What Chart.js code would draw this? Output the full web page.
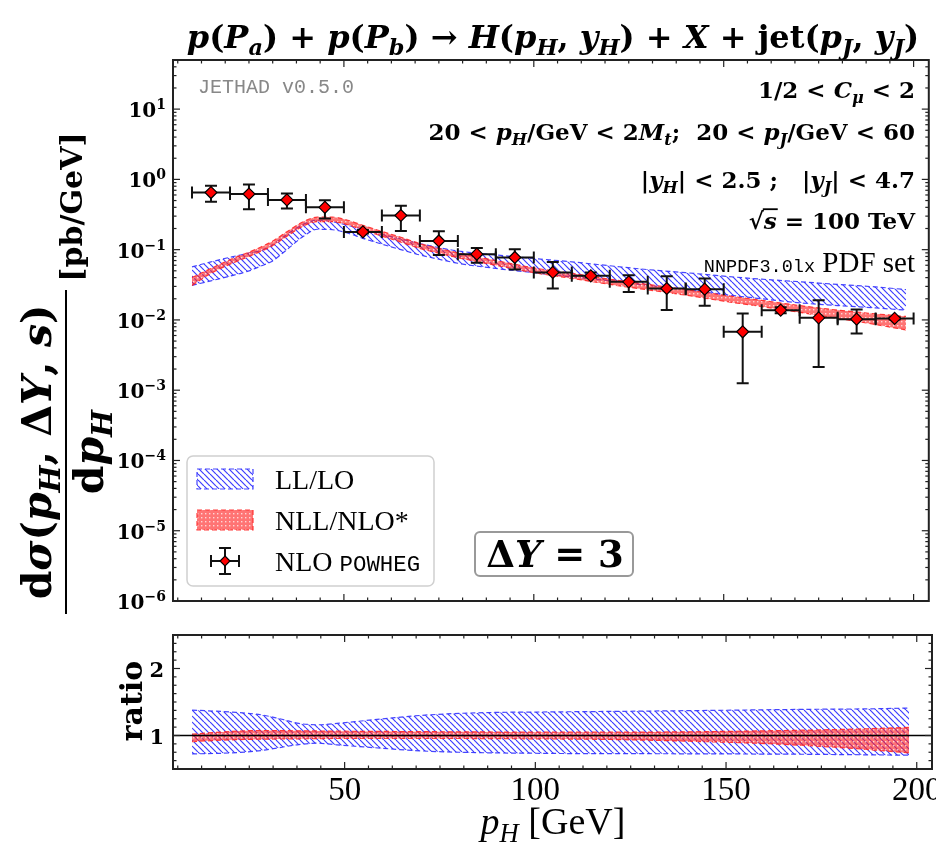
<!DOCTYPE html>
<html>
<head>
<meta charset="utf-8">
<script src="https://cdn.jsdelivr.net/npm/chart.js@4.4.1/dist/chart.umd.min.js"></script>
<style>
  body { margin: 0; background: #fff; }
  #wrap { position: relative; width: 936px; height: 847px; overflow: hidden; }
  canvas { position: absolute; left: 0; }
</style>
</head>
<body>
<div id="wrap">
  <canvas id="main" width="936" height="620" style="top:0"></canvas>
  <canvas id="ratio" width="936" height="227" style="top:620px"></canvas>
</div>
<script>
// ---- data ----
const bandX = [10,15,20,25,28,31,35,39,43,47,51,55,60,65,70,75,80,90,100,110,120,130,140,150,160,170,180,190,198];
const llUp  = [0.057,0.067,0.078,0.089,0.097,0.115,0.165,0.225,0.262,0.25,0.222,0.195,0.165,0.142,0.122,0.107,0.096,0.084,0.075,0.067,0.059,0.052,0.047,0.042,0.038,0.035,0.032,0.0295,0.027];
const llLo  = [0.031,0.036,0.042,0.050,0.058,0.068,0.10,0.15,0.195,0.192,0.172,0.145,0.12,0.10,0.084,0.073,0.064,0.054,0.047,0.041,0.036,0.031,0.027,0.023,0.020,0.0175,0.016,0.0148,0.0138];
const nllUp = [0.040,0.054,0.072,0.092,0.108,0.13,0.18,0.245,0.29,0.29,0.262,0.222,0.182,0.150,0.122,0.104,0.090,0.070,0.055,0.046,0.038,0.032,0.027,0.0225,0.019,0.016,0.0138,0.0122,0.0112];
const nllLo = [0.031,0.046,0.062,0.080,0.094,0.112,0.155,0.212,0.25,0.25,0.226,0.19,0.156,0.128,0.104,0.089,0.077,0.060,0.047,0.039,0.032,0.0268,0.0225,0.0185,0.0155,0.0128,0.0105,0.0086,0.0072];

const powX    = [15,25,35,45,55,65,75,85,95,105,115,125,135,145,155,165,175,185,195];
const powXErr = [5,5,5,5,5,5,5,5,5,5,5,5,5,5,5,5,5,5,5];
const powY    = [0.65,0.62,0.51,0.40,0.179,0.306,0.133,0.0863,0.0774,0.0474,0.0424,0.0348,0.028,0.0274,0.00678,0.01377,0.0107,0.01026,0.0105];
const powHi   = [0.81,0.845,0.63,0.506,0.19,0.42,0.183,0.106,0.1016,0.067,0.0474,0.0434,0.042,0.0389,0.01237,0.0152,0.0191,0.0141,0.0109];
const powLo   = [0.48,0.377,0.385,0.278,0.17,0.185,0.0836,0.0649,0.0523,0.028,0.0402,0.025,0.0138,0.0159,0.00126,0.0124,0.00213,0.00643,0.0101];

const ratioX    = [10,20,28,33,38,43,48,55,62,70,80,90,100,110,130,150,170,190,198];
const llRatUp   = [1.38,1.35,1.31,1.25,1.18,1.16,1.18,1.22,1.26,1.30,1.33,1.345,1.35,1.355,1.365,1.377,1.39,1.40,1.41];
const llRatLo   = [0.725,0.74,0.775,0.82,0.865,0.885,0.86,0.83,0.80,0.77,0.75,0.74,0.735,0.73,0.728,0.725,0.72,0.71,0.706];
const nllRatX   = [10,20,28,38,48,62,80,100,120,140,160,180,198];
const nllRatUp  = [1.02,1.06,1.075,1.07,1.065,1.06,1.055,1.05,1.05,1.055,1.07,1.09,1.12];
const nllRatLo  = [0.91,0.935,0.945,0.95,0.955,0.955,0.955,0.95,0.94,0.915,0.88,0.82,0.74];

const xMajorTicks = [50,100,150,200];
const xTickLabels = ['50','100','150','200'];
const yMainExp = [-6,-5,-4,-3,-2,-1,0,1];
const yRatioTicks = [1,2];

// ---- helpers ----
const SERIF = '"Liberation Serif", "DejaVu Serif", serif';
const BSERIF = '"DejaVu Serif", "Liberation Serif", serif';
const MONO = '"Liberation Mono", "DejaVu Sans Mono", monospace';
function fontFor(k, s) {
  if (k === 'b') return 'bold ' + s + 'px ' + BSERIF;
  if (k === 'bi') return 'italic bold ' + s + 'px ' + BSERIF;
  if (k === 'i') return 'italic ' + s + 'px ' + SERIF;
  if (k === 'm') return s + 'px ' + MONO;
  return s + 'px ' + SERIF;
}
// segs: [text, kind, 'sub'|'sup'|'', size factor]
function drawRich(ctx, segs, x, y, size, align, color) {
  const out = [];
  let w = 0;
  segs.forEach(([t, k, pos, f]) => {
    const s = (pos ? size * 0.7 : size) * (f || 1);
    ctx.font = fontFor(k, s);
    const tw = ctx.measureText(t).width;
    out.push({ t, f: ctx.font, x: w, w: tw, dy: pos === 'sub' ? size * 0.22 : pos === 'sup' ? -size * 0.4 : 0 });
    w += tw;
  });
  const x0 = align === 'right' ? x - w : align === 'center' ? x - w / 2 : x;
  ctx.fillStyle = color || '#000';
  ctx.textAlign = 'left';
  ctx.textBaseline = 'alphabetic';
  out.forEach(o => { ctx.font = o.f; ctx.fillText(o.t, x0 + o.x, y + o.dy); });
  return { x0, w, out };
}
function hatchPattern() {
  const c = document.createElement('canvas');
  const s = 6;
  c.width = s; c.height = s;
  const g = c.getContext('2d');
  g.strokeStyle = 'rgba(40,40,255,0.9)';
  g.lineWidth = 1.2;
  [-s, 0, s].forEach(o => { g.beginPath(); g.moveTo(o, 0); g.lineTo(o + s, s); g.stroke(); });
  return g.createPattern(c, 'repeat');
}
function dotPattern() {
  const c = document.createElement('canvas');
  c.width = 4; c.height = 4;
  const g = c.getContext('2d');
  g.fillStyle = 'rgba(255,30,30,0.62)';
  g.fillRect(0, 0, 4, 4);
  g.fillStyle = 'rgba(255,255,255,0.7)';
  g.fillRect(1, 1, 1.4, 1.4);
  return g.createPattern(c, 'repeat');
}
const blueFill = hatchPattern();
const redFill = dotPattern();
const blueEdge = 'rgba(50,50,255,0.9)';
const redEdge = 'rgba(255,40,40,0.9)';
const pts = (xs, ys) => xs.map((x, i) => ({ x, y: ys[i] }));

function band(xs, up, lo, fill, edge, order) {
  const common = { pointRadius: 0, borderWidth: 1.2, borderDash: [5, 3], borderColor: edge,
    cubicInterpolationMode: 'monotone', order };
  return [
    Object.assign({ data: pts(xs, up), fill: '+1', backgroundColor: fill }, common),
    Object.assign({ data: pts(xs, lo), fill: false }, common)
  ];
}

const xMinorTicks = [];
for (let v = 6.25; v < 204; v += 6.25) if (v % 50 !== 0) xMinorTicks.push(v);

const frameTicks = {
  id: 'frameTicks',
  afterDatasetsDraw(chart, args, o) {
    const { ctx, chartArea: a, scales: { x, y } } = chart;
    ctx.save();
    ctx.strokeStyle = '#222';
    ctx.lineWidth = 1.2;
    const tk = (px, py, dx, dy) => { ctx.beginPath(); ctx.moveTo(px, py); ctx.lineTo(px + dx, py + dy); ctx.stroke(); };
    if (o.unity) {
      ctx.lineWidth = 1.6; ctx.strokeStyle = '#000';
      const p = y.getPixelForValue(1);
      tk(a.left, p, a.right - a.left, 0);
      ctx.lineWidth = 1.2; ctx.strokeStyle = '#222';
    }
    xMajorTicks.forEach(v => { const p = x.getPixelForValue(v); tk(p, a.bottom, 0, -7); tk(p, a.top, 0, 7); });
    xMinorTicks.forEach(v => { const p = x.getPixelForValue(v); tk(p, a.bottom, 0, -3.5); tk(p, a.top, 0, 3.5); });
    o.yMajor.forEach(v => { const p = y.getPixelForValue(v); tk(a.left, p, 7, 0); tk(a.right, p, -7, 0); });
    o.yMinor.forEach(v => { const p = y.getPixelForValue(v); tk(a.left, p, 3.5, 0); tk(a.right, p, -3.5, 0); });
    ctx.lineWidth = 2;
    ctx.strokeRect(a.left, a.top, a.right - a.left, a.bottom - a.top);
    ctx.restore();
  }
};

const errorBars = {
  id: 'errorBars',
  beforeDatasetDraw(chart, args) {
    const ds = chart.data.datasets[args.index];
    if (!ds.errHi) return;
    const { ctx, chartArea: a, scales: { x, y } } = chart;
    ctx.save();
    ctx.beginPath(); ctx.rect(a.left, a.top, a.right - a.left, a.bottom - a.top); ctx.clip();
    ctx.strokeStyle = '#111';
    ctx.lineWidth = 2;
    const cap = 6;
    ds.data.forEach((p, i) => {
      const px = x.getPixelForValue(p.x), py = y.getPixelForValue(p.y);
      const xl = x.getPixelForValue(p.x - powXErr[i]), xr = x.getPixelForValue(p.x + powXErr[i]);
      const yt = y.getPixelForValue(ds.errHi[i]), yb = y.getPixelForValue(ds.errLo[i]);
      ctx.beginPath();
      ctx.moveTo(xl, py); ctx.lineTo(xr, py);
      ctx.moveTo(xl, py - cap); ctx.lineTo(xl, py + cap);
      ctx.moveTo(xr, py - cap); ctx.lineTo(xr, py + cap);
      ctx.moveTo(px, yt); ctx.lineTo(px, yb);
      ctx.moveTo(px - cap, yt); ctx.lineTo(px + cap, yt);
      ctx.moveTo(px - cap, yb); ctx.lineTo(px + cap, yb);
      ctx.stroke();
    });
    ctx.restore();
  }
};

function diamond(ctx, cx, cy, r) {
  ctx.beginPath();
  ctx.moveTo(cx, cy - r); ctx.lineTo(cx + r, cy); ctx.lineTo(cx, cy + r); ctx.lineTo(cx - r, cy); ctx.closePath();
  ctx.fillStyle = '#ff0000'; ctx.fill();
  ctx.strokeStyle = '#000'; ctx.lineWidth = 1.2; ctx.stroke();
}
function roundRect(ctx, x, y, w, h, r) {
  ctx.beginPath();
  ctx.moveTo(x + r, y); ctx.arcTo(x + w, y, x + w, y + h, r); ctx.arcTo(x + w, y + h, x, y + h, r);
  ctx.arcTo(x, y + h, x, y, r); ctx.arcTo(x, y, x + w, y, r); ctx.closePath();
}

const mainDecor = {
  id: 'mainDecor',
  afterDraw(chart) {
    const { ctx, scales: { y } } = chart;
    ctx.save();
    // title
    drawRich(ctx, [['p','bi'],['(','b'],['P','bi'],['a','bi','sub'],[')','b'],[' + ','b'],['p','bi'],['(','b'],['P','bi'],['b','bi','sub'],[')','b'],
      [' → ','b'],['H','bi'],['(','b'],['p','bi'],['H','bi','sub'],[', ','b'],['y','bi'],['H','bi','sub'],[')','b'],[' + ','b'],['X','bi'],[' + ','b'],
      ['jet','b'],['(','b'],['p','bi'],['J','bi','sub'],[', ','b'],['y','bi'],['J','bi','sub'],[')','b']], 553, 48, 32, 'center');
    // y tick labels
    yMainExp.forEach(e => {
      const p = y.getPixelForValue(Math.pow(10, e));
      const ex = e < 0 ? '\u2212' + (-e) : String(e);
      drawRich(ctx, [['10','b'],[ex,'b','sup']], 166, p + 8, 20, 'right');
    });
    // y axis label (rotated fraction)
    ctx.save();
    ctx.translate(66, 452);
    ctx.rotate(-Math.PI / 2);
    drawRich(ctx, [['d','b'],['σ','bi'],['(','b'],['p','bi'],['H','bi','sub'],[', ','b'],['Δ','b'],['Y','bi'],[', ','b'],['s','bi'],[')','b']], 0, -15, 41, 'center');
    ctx.fillStyle = '#000';
    ctx.fillRect(-162, -1, 324, 2);
    drawRich(ctx, [['d','b'],['p','bi'],['H','bi','sub']], 0, 37, 41, 'center');
    drawRich(ctx, [['[pb/GeV]','b']], 245, 16, 30, 'center');
    ctx.restore();
    // annotations
    drawRich(ctx, [['JETHAD v0.5.0','m']], 198, 93, 20, 'left', '#888');
    const fs = 23;
    drawRich(ctx, [['1/2 < ','b'],['C','bi'],['μ','bi','sub'],[' < 2','b']], 915, 98, fs, 'right');
    drawRich(ctx, [['20 < ','b'],['p','bi'],['H','bi','sub'],['/GeV < 2','b'],['M','bi'],['t','bi','sub'],[';  20 < ','b'],['p','bi'],['J','bi','sub'],['/GeV < 60','b']], 915, 140, fs, 'right');
    drawRich(ctx, [['|','b'],['y','bi'],['H','bi','sub'],['| < 2.5 ;   |','b'],['y','bi'],['J','bi','sub'],['| < 4.7','b']], 915, 188, fs, 'right');
    const r = drawRich(ctx, [['√','b'],['s','bi'],[' = 100 TeV','b']], 915, 229, fs, 'right');
    const so = r.out[1];
    ctx.fillRect(r.x0 + so.x - 1, 229 - fs * 0.9, so.w + 2, 1.8);
    drawRich(ctx, [['NNPDF3.0lx','m','',0.64],[' PDF set','r']], 915, 272, 29, 'right');
    // legend
    roundRect(ctx, 187, 456, 247, 130, 6);
    ctx.fillStyle = 'rgba(255,255,255,0.85)'; ctx.fill();
    ctx.strokeStyle = '#d0d0d0'; ctx.lineWidth = 1.5; ctx.stroke();
    const sw = (yy, fill, edge) => {
      ctx.fillStyle = fill; ctx.fillRect(197, yy, 56, 20);
      ctx.setLineDash([5, 3]); ctx.strokeStyle = edge; ctx.lineWidth = 1.2; ctx.strokeRect(197, yy, 56, 20); ctx.setLineDash([]);
    };
    sw(469, blueFill, blueEdge);
    sw(510, redFill, redEdge);
    ctx.strokeStyle = '#111'; ctx.lineWidth = 2;
    ctx.beginPath();
    ctx.moveTo(211, 561); ctx.lineTo(239, 561);
    ctx.moveTo(211, 555); ctx.lineTo(211, 567); ctx.moveTo(239, 555); ctx.lineTo(239, 567);
    ctx.moveTo(225, 548); ctx.lineTo(225, 574);
    ctx.moveTo(219, 548); ctx.lineTo(231, 548); ctx.moveTo(219, 574); ctx.lineTo(231, 574);
    ctx.stroke();
    diamond(ctx, 225, 561, 5);
    drawRich(ctx, [['LL/LO','r']], 275, 489, 28, 'left');
    drawRich(ctx, [['NLL/NLO*','r']], 275, 530, 28, 'left');
    drawRich(ctx, [['NLO ','r'],['POWHEG','m','',0.8]], 275, 571, 28, 'left');
    // ΔY box
    roundRect(ctx, 475, 532, 158, 44, 5);
    ctx.fillStyle = '#fff'; ctx.fill();
    ctx.strokeStyle = '#999'; ctx.lineWidth = 2; ctx.stroke();
    drawRich(ctx, [['Δ','b'],['Y','bi'],[' = 3','b']], 555, 567, 37, 'center');
    ctx.restore();
  }
};

const ratioDecor = {
  id: 'ratioDecor',
  afterDraw(chart) {
    const { ctx, scales: { x, y } } = chart;
    ctx.save();
    yRatioTicks.forEach(v => drawRich(ctx, [[String(v), 'b']], 164, y.getPixelForValue(v) + 8, 21, 'right'));
    xMajorTicks.forEach((v, i) => drawRich(ctx, [[xTickLabels[i], 'r']], x.getPixelForValue(v), 180, 33, 'center'));
    drawRich(ctx, [['p','i'],['H','i','sub'],[' [GeV]','r']], 553, 214, 38, 'center');
    ctx.save();
    ctx.translate(142, 81);
    ctx.rotate(-Math.PI / 2);
    drawRich(ctx, [['ratio','b']], 0, 0, 30, 'center');
    ctx.restore();
    ctx.restore();
  }
};

Chart.register(frameTicks, errorBars);

const yMinorMain = [];
yMainExp.forEach(e => { for (let k = 2; k <= 9; k++) { const v = k * Math.pow(10, e); if (v < 50) yMinorMain.push(v); } });
const yMinorRatio = [];
for (let v = 0.625; v < 2.5; v += 0.125) if (v !== 1 && v !== 2) yMinorRatio.push(v);

const hidden = { ticks: { display: false }, grid: { display: false }, border: { display: false } };

new Chart(document.getElementById('main'), {
  type: 'line',
  data: {
    datasets: [
      ...band(bandX, llUp, llLo, blueFill, blueEdge, 4),
      ...band(bandX, nllUp, nllLo, redFill, redEdge, 2),
      { data: pts(powX, powY), errHi: powHi, errLo: powLo, showLine: false, pointStyle: 'rectRot',
        pointRadius: 6, pointBackgroundColor: '#ff0000', pointBorderColor: '#000', pointBorderWidth: 1.2, order: 0 }
    ]
  },
  options: {
    responsive: false, animation: false,
    layout: { padding: { top: 60, right: 4, left: 0, bottom: 0 } },
    scales: {
      x: Object.assign({ type: 'linear', min: 5, max: 204, afterFit(s) { s.height = 19; } }, hidden),
      y: Object.assign({ type: 'logarithmic', min: 1e-6, max: 50, afterFit(s) { s.width = 173; } }, hidden)
    },
    plugins: {
      legend: { display: false }, tooltip: { enabled: false },
      frameTicks: { yMajor: yMainExp.map(e => Math.pow(10, e)), yMinor: yMinorMain }
    }
  },
  plugins: [mainDecor]
});

new Chart(document.getElementById('ratio'), {
  type: 'line',
  data: {
    datasets: [
      ...band(ratioX, llRatUp, llRatLo, blueFill, blueEdge, 4),
      ...band(nllRatX, nllRatUp, nllRatLo, redFill, redEdge, 2)
    ]
  },
  options: {
    responsive: false, animation: false,
    layout: { padding: { top: 15, right: 4, left: 0, bottom: 0 } },
    scales: {
      x: Object.assign({ type: 'linear', min: 5, max: 204, afterFit(s) { s.height = 78; } }, hidden),
      y: Object.assign({ type: 'linear', min: 0.5, max: 2.5, afterFit(s) { s.width = 173; } }, hidden)
    },
    plugins: {
      legend: { display: false }, tooltip: { enabled: false },
      frameTicks: { yMajor: yRatioTicks, yMinor: yMinorRatio, unity: true }
    }
  },
  plugins: [ratioDecor]
});
</script>
</body>
</html>
